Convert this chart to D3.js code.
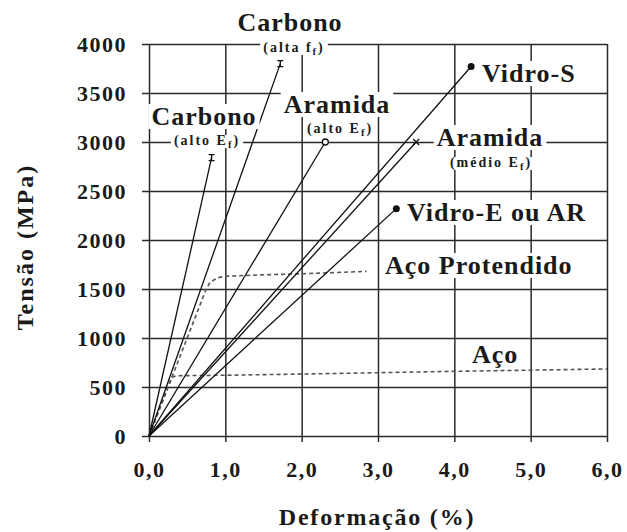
<!DOCTYPE html>
<html>
<head>
<meta charset="utf-8">
<title>Tensão x Deformação</title>
<script src="https://d3js.org/d3.v7.min.js"></script>
<style>
body { margin: 0; background: #fff; }
svg text { font-family: "Liberation Serif", "Times New Roman", Times, serif !important; font-weight: bold; fill: #1a1a1a; }
</style>
</head>
<body>
<script>

// dados (tensao em MPa, deformacao em %)
var xTicks = [0, 1, 2, 3, 4, 5, 6];
var xTickLabels = ["0,0", "1,0", "2,0", "3,0", "4,0", "5,0", "6,0"];
var yTicks = [0, 500, 1000, 1500, 2000, 2500, 3000, 3500, 4000];

var carbonoAltoE = [[0, 0], [0.82, 2840]];
var carbonoAltaF = [[0, 0], [1.72, 3800]];
var aramidaAltoE = [[0, 0], [2.31, 3000]];
var aramidaMedioE = [[0, 0], [3.50, 3000]];
var vidroS = [[0, 0], [4.22, 3770]];
var vidroE = [[0, 0], [3.24, 2320]];
var acoProtendido = [[0, 0], [0.74, 1480], [0.80, 1570], [0.90, 1615], [1.0, 1630], [1.5, 1645], [2.0, 1655], [2.85, 1680]];
var aco = [[0, 0], [0.30, 600], [0.36, 615], [1.0, 620], [2.0, 632], [3.0, 646], [4.0, 660], [5.0, 672], [6.0, 684]];

var width = 627, height = 532;
var margin = {top: 44, right: 20, bottom: 96, left: 149};
var w = width - margin.left - margin.right;
var h = height - margin.top - margin.bottom;

var svg = d3.select("body").append("svg")
	.attr("width", width)
	.attr("height", height);

svg.append("rect").attr("width", width).attr("height", height).attr("fill", "#fff");

var x = d3.scaleLinear().domain([0, 6]).range([margin.left, margin.left + w]);
var y = d3.scaleLinear().domain([0, 4000]).range([margin.top + h, margin.top]);

// grade + eixo y
var gy = svg.append("g")
	.attr("transform", "translate(" + (margin.left - 7) + ",0)")
	.call(d3.axisLeft(y).tickValues(yTicks).tickSize(-(w + 7)).tickPadding(15).tickFormat(d3.format("d")));
gy.select(".domain").remove();
gy.attr("font-family", null);
gy.selectAll("line").attr("stroke", "#2a2a2a").attr("stroke-width", 1.5);
gy.selectAll("text").style("font-size", "22px").style("letter-spacing", "1.5px");

// grade + eixo x
var gx = svg.append("g")
	.attr("transform", "translate(0," + (margin.top + h + 6) + ")")
	.call(d3.axisBottom(x).tickValues(xTicks).tickSize(-(h + 6)).tickPadding(19)
		.tickFormat(function(d, i) { return xTickLabels[i]; }));
gx.select(".domain").remove();
gx.attr("font-family", null);
gx.selectAll("line").attr("stroke", "#2a2a2a").attr("stroke-width", 1.5);
gx.selectAll("text").style("font-size", "22px").style("letter-spacing", "1.5px");

// titulos dos eixos
svg.append("text")
	.attr("transform", "translate(33,247) rotate(-90)")
	.attr("text-anchor", "middle")
	.style("font-size", "24px").style("letter-spacing", "2px")
	.text("Tensão (MPa)");
svg.append("text")
	.attr("x", 377).attr("y", 525)
	.attr("text-anchor", "middle")
	.style("font-size", "24px").style("letter-spacing", "1.8px")
	.text("Deformação (%)");

var line = d3.line().x(function(d) { return x(d[0]); }).y(function(d) { return y(d[1]); });

// aços (tracejado)
[acoProtendido, aco].forEach(function(s) {
	svg.append("path")
		.attr("d", line(s))
		.attr("fill", "none")
		.attr("stroke", "#555")
		.attr("stroke-width", 1.6)
		.attr("stroke-dasharray", "4,3");
});

// fibras
var series = [
	{data: carbonoAltoE, marker: "bar"},
	{data: carbonoAltaF, marker: "bar"},
	{data: aramidaAltoE, marker: "open"},
	{data: aramidaMedioE, marker: "cross"},
	{data: vidroS, marker: "dot"},
	{data: vidroE, marker: "dot"}
];

series.forEach(function(s) {
	svg.append("path")
		.attr("d", line(s.data))
		.attr("fill", "none")
		.attr("stroke", "#111")
		.attr("stroke-width", 1.3);
	var end = s.data[s.data.length - 1];
	var px = x(end[0]), py = y(end[1]);
	if (s.marker == "dot") {
		svg.append("circle").attr("cx", px).attr("cy", py).attr("r", 3.5).attr("fill", "#111");
	} else if (s.marker == "open") {
		svg.append("circle").attr("cx", px).attr("cy", py).attr("r", 3)
			.attr("fill", "#fff").attr("stroke", "#111").attr("stroke-width", 1.3);
	} else if (s.marker == "bar") {
		svg.append("path")
			.attr("d", "M" + (px - 3) + "," + (py - 3) + "h6M" + px + "," + (py - 3) + "v6M" + (px - 3) + "," + (py + 3) + "h6")
			.attr("stroke", "#111").attr("stroke-width", 1.3);
	} else {
		svg.append("path")
			.attr("d", "M" + (px - 3) + "," + (py - 3) + "l6,6M" + (px - 3) + "," + (py + 3) + "l6,-6")
			.attr("stroke", "#111").attr("stroke-width", 1.3);
	}
});

// rotulos com fundo branco
var labels = svg.append("g");
function label(txt, sub, lx, ly, size, anchor, spacing) {
	var t = labels.append("text")
		.attr("x", lx).attr("y", ly)
		.attr("text-anchor", anchor)
		.style("font-size", size + "px")
		.style("letter-spacing", spacing + "px");
	t.append("tspan").text(txt);
	if (sub) {
		t.append("tspan").attr("dy", 3).style("font-size", (size * 0.75) + "px").text(sub);
		t.append("tspan").attr("dy", -3).text(")");
	}
	var b = t.node().getBBox();
	labels.insert("rect", function() { return t.node(); })
		.attr("x", b.x - 3).attr("y", b.y + 2)
		.attr("width", b.width + 6).attr("height", b.height - 4)
		.attr("fill", "#fff");
}

label("Carbono", null, 290, 31, 26, "middle", 1);
label("(alta f", "f", 294, 52, 14, "middle", 2);
label("Carbono", null, 204, 125, 26, "middle", 1);
label("(alto E", "f", 207, 145, 14, "middle", 2);
label("Aramida", null, 337, 113, 26, "middle", 1);
label("(alto E", "f", 340, 133, 14, "middle", 2);
label("Aramida", null, 490, 146, 26, "middle", 1);
label("(médio E", "f", 491, 167, 14, "middle", 2);
label("Vidro-S", null, 482, 82, 26, "start", 1);
label("Vidro-E ou AR", null, 407, 221, 26, "start", 1);
label("Aço Protendido", null, 385, 274, 26, "start", 1);
label("Aço", null, 472, 363, 26, "start", 1);

</script>
</body>
</html>
